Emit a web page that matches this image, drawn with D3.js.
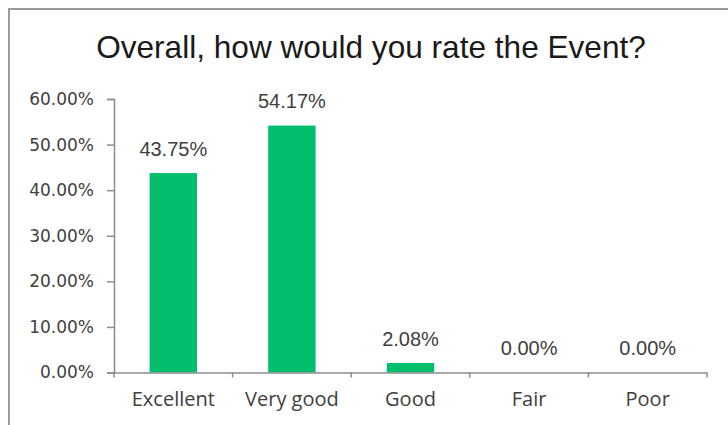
<!DOCTYPE html>
<html>
<head>
<meta charset="utf-8">
<script src="https://cdn.jsdelivr.net/npm/d3@7/dist/d3.min.js"></script>
<style>
  html, body { margin: 0; padding: 0; background: #ffffff; }
  svg { display: block; }
</style>
</head>
<body>
<svg id="chart" width="728" height="425"></svg>
<script>
const titleText = "Overall, how would you rate the Event?";
const categories = ["Excellent", "Very good", "Good", "Fair", "Poor"];
const values = [43.75, 54.17, 2.08, 0.00, 0.00];
const yTicks = [0, 10, 20, 30, 40, 50, 60];

(function () {
const svg = d3.select("#chart");
const W = 728, H = 425;
const pLeft = 114, pRight = 707, pTop = 99, pBottom = 372.5;

// frame
svg.append("path")
  .attr("d", `M9,${H} L9,9 L${W},9`)
  .attr("fill", "none")
  .attr("stroke", "#9a9a9a")
  .attr("stroke-width", 2);

// title
svg.append("text")
  .attr("x", 371)
  .attr("y", 58)
  .attr("text-anchor", "middle")
  .attr("font-family", "'Liberation Sans', Arial, sans-serif")
  .attr("font-size", 31.6)
  .attr("fill", "#1a1a1a")
  .text(titleText);

const x = d3.scaleBand().domain(categories).range([pLeft, pRight]).paddingInner(0.6).paddingOuter(0.3);
const xOuter = d3.scaleBand().domain(categories).range([pLeft, pRight]);
const y = d3.scaleLinear().domain([0, 60]).range([pBottom, pTop]);

// bars
svg.append("g").selectAll("rect")
  .data(categories)
  .join("rect")
  .attr("x", d => x(d))
  .attr("width", x.bandwidth())
  .attr("y", (d, i) => y(values[i]))
  .attr("height", (d, i) => y(0) - y(values[i]))
  .attr("fill", "#02bf6e");

// y axis
const yAxis = d3.axisLeft(y)
  .tickValues(yTicks)
  .tickSize(7)
  .tickPadding(13)
  .tickFormat(d => d.toFixed(2) + "%");
const gy = svg.append("g").attr("transform", `translate(${pLeft},0)`).call(yAxis);
gy.select(".domain").attr("stroke", "#8c8c8c").attr("stroke-width", 1.5);
gy.selectAll(".tick line").attr("stroke", "#8c8c8c").attr("stroke-width", 1.5);
gy.selectAll(".tick text")
  .attr("font-family", "'DejaVu Sans', sans-serif")
  .attr("font-size", 17)
  .attr("fill", "#404040");

// x axis (labels)
const xAxis = d3.axisBottom(xOuter).tickSize(0).tickPadding(19);
const gx = svg.append("g").attr("transform", `translate(0,${pBottom})`).call(xAxis);
gx.select(".domain").attr("stroke", "#8c8c8c").attr("stroke-width", 1.5);
gx.selectAll(".tick text")
  .attr("font-family", "'Open Sans', sans-serif")
  .attr("font-size", 20)
  .attr("fill", "#404040");

// x boundary ticks
const bounds = categories.map(c => xOuter(c)).concat([xOuter.range()[1]]);
svg.append("g").selectAll("line")
  .data(bounds)
  .join("line")
  .attr("x1", d => d).attr("x2", d => d)
  .attr("y1", pBottom).attr("y2", pBottom + 5)
  .attr("stroke", "#8c8c8c")
  .attr("stroke-width", 1.5);

// value labels
svg.append("g").selectAll("text")
  .data(categories)
  .join("text")
  .attr("x", d => x(d) + x.bandwidth() / 2)
  .attr("y", (d, i) => y(values[i]) - 17.5)
  .attr("text-anchor", "middle")
  .attr("font-family", "'Liberation Sans', Arial, sans-serif")
  .attr("font-size", 20)
  .attr("fill", "#404040")
  .text((d, i) => values[i].toFixed(2) + "%");
})();
</script>
</body>
</html>
